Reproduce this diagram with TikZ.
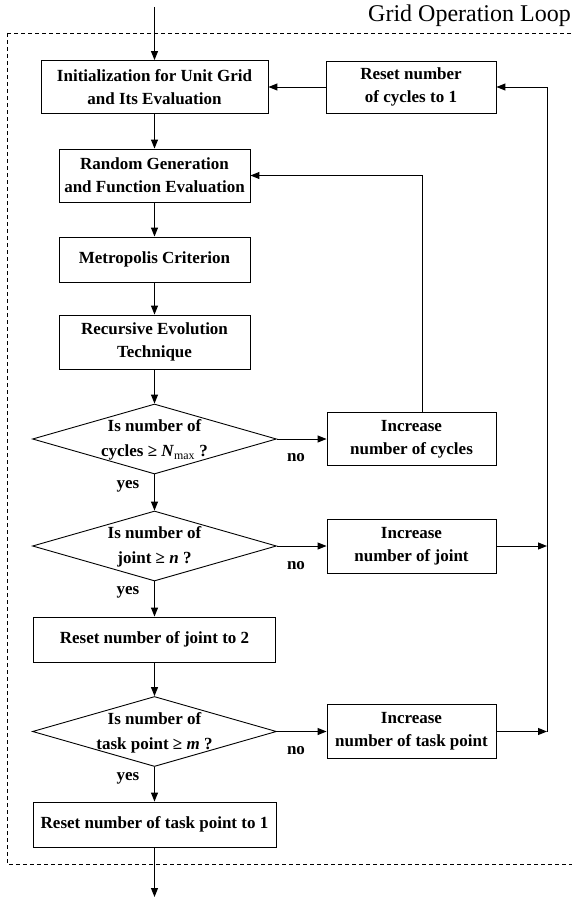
\documentclass[tikz,border=0pt]{standalone}
\usepackage{fontspec}
\setmainfont{Liberation Serif}
\usetikzlibrary{arrows.meta,shapes.geometric,calc}
\begin{document}
\begin{tikzpicture}[x=1pt,y=-1pt,
  flowbox/.style={draw, line width=0.9pt, inner sep=0pt, align=center,
    font=\fontsize{17}{23}\selectfont\bfseries},
  decision/.style={draw, diamond, line width=0.9pt, inner sep=0pt,
    minimum width=244pt, minimum height=70pt},
  dtext/.style={align=center, inner sep=0pt, font=\fontsize{17}{25}\selectfont\bfseries},
  lbl/.style={inner sep=0pt, font=\fontsize{17}{20}\selectfont\bfseries},
  arr/.style={line width=1pt, -{Triangle[length=9pt,width=7pt]}},
  plain/.style={line width=1pt},
  loopframe/.style={line width=0.7pt, dash pattern=on 4pt off 3pt}
]
\useasboundingbox (0,0) rectangle (572,899);

% frame and title
\draw[loopframe] (7,33) rectangle (585,864);
\node[anchor=base east, inner sep=0pt, font=\fontsize{24}{24}\selectfont] (title) at (571,22) {Grid Operation Loop};

% main column
\node[flowbox, minimum width=227pt, minimum height=53pt] (init) at (154.5,87) {Initialization for Unit Grid\\and Its Evaluation};
\node[flowbox, minimum width=170pt, minimum height=52pt] (resetc) at (411,87) {Reset number\\of cycles to 1};
\node[flowbox, minimum width=191pt, minimum height=53pt] (rand) at (154.5,175.5) {Random Generation\\and Function Evaluation};
\node[flowbox, minimum width=191pt, minimum height=45pt] (metro) at (154.5,259.5) {Metropolis Criterion};
\node[flowbox, minimum width=191pt, minimum height=54pt] (recur) at (154.5,342) {Recursive Evolution\\Technique};

\node[decision] (d1) at (154.5,439) {};
\node[dtext] (d1t) at (154.5,440) {Is number of\\cycles ≥ \textit{N}\textsubscript{\normalfont max} ?};
\node[flowbox, minimum width=169pt, minimum height=53pt] (incc) at (411.5,439) {Increase\\number of cycles};

\node[decision] (d2) at (154.5,546) {};
\node[dtext] (d2t) at (154.5,547) {Is number of\\joint ≥ \textit{n} ?};
\node[flowbox, minimum width=169pt, minimum height=54pt] (incj) at (411.5,546) {Increase\\number of joint};

\node[flowbox, minimum width=242pt, minimum height=45pt] (resetj) at (154.5,639.5) {Reset number of joint to 2};

\node[decision] (d3) at (154.5,731.5) {};
\node[dtext] (d3t) at (154.5,732.5) {Is number of\\task point ≥ \textit{m} ?};
\node[flowbox, minimum width=169pt, minimum height=54pt] (inct) at (411.5,731.5) {Increase\\number of task point};

\node[flowbox, minimum width=243pt, minimum height=45pt] (resett) at (154.5,824.5) {Reset number of task point to 1};

% labels
\node[lbl] (no1) at (296,458) {no};
\node[lbl] (no2) at (296,566) {no};
\node[lbl] (no3) at (296,751) {no};
\node[lbl] (yes1) at (128,486) {yes};
\node[lbl] (yes2) at (128,592) {yes};
\node[lbl] (yes3) at (128,778) {yes};

% helper coordinates
\coordinate (start) at (154.5,7);
\coordinate (finish) at (154.5,897);
\coordinate (lx) at (422,172);
\coordinate (rl) at (547,87);

% main flow
\draw[arr] (start) -- (init.north);
\draw[arr] (init) -- (rand);
\draw[arr] (rand) -- (metro);
\draw[arr] (metro) -- (recur);
\draw[arr] (recur) -- (d1.north);
\draw[arr] (d1.south) -- (d2.north);
\draw[arr] (d2.south) -- (resetj);
\draw[arr] (resetj) -- (d3.north);
\draw[arr] (d3.south) -- (resett);
\draw[arr] (resett) -- (finish);

% no branches
\draw[arr] (d1.east) -- (incc.west);
\draw[arr] (d2.east) -- (incj.west);
\draw[arr] (d3.east) -- (inct.west);

% loops
\draw[arr] (incc.north -| lx) -- (lx |- rand.east) -- (rand.east);
\draw[arr] (incj.east) -- (incj.east -| rl);
\draw[arr] (inct.east) -- (inct.east -| rl);
\draw[plain] (inct.east -| rl) -- (rl);
\draw[arr] (rl) -- (resetc.east);
\draw[arr] (resetc) -- (init);
\end{tikzpicture}
\end{document}
